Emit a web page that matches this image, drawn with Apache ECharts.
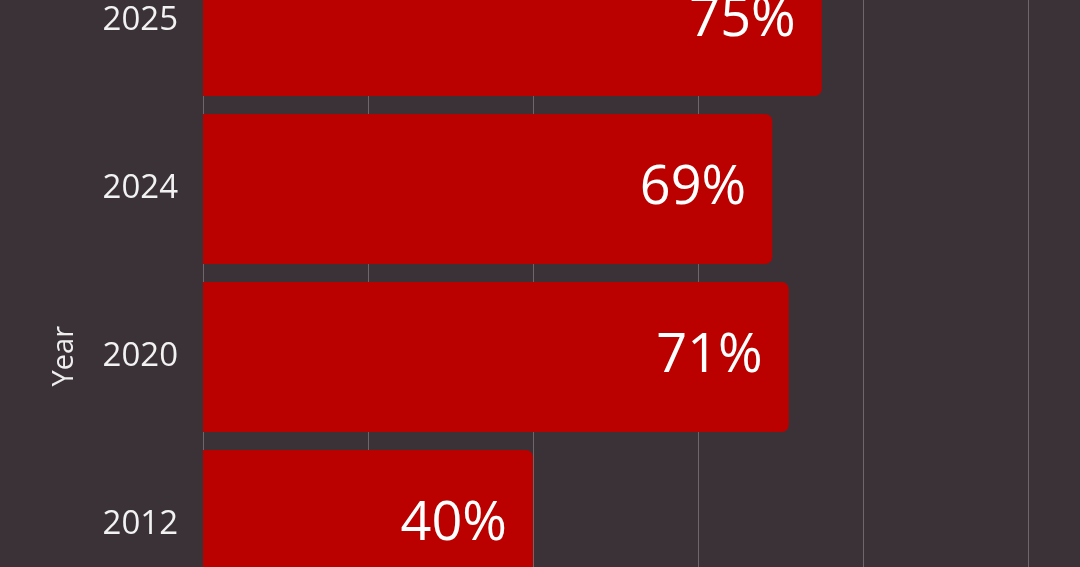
<!DOCTYPE html>
<html>
<head>
<meta charset="utf-8">
<script src="https://cdn.jsdelivr.net/npm/echarts@6/dist/echarts.min.js"></script>
<style>
html,body{margin:0;padding:0;background:#3b3237;overflow:hidden;width:1080px;height:567px;}
#c{position:absolute;left:0;top:-63px;width:1080px;height:672px;}
</style>
</head>
<body>
<div id="c"></div>
<script>
var categories = ['2012', '2020', '2024', '2025'];
var values = [40, 71, 69, 75];
var xTicks = [0, 20, 40, 60, 80, 100];

var chart = echarts.init(document.getElementById('c'));
chart.setOption({
  backgroundColor: '#3b3237',
  animation: false,
  grid: { left: 203, right: 52, top: 0, bottom: 0 },
  xAxis: {
    type: 'value',
    min: xTicks[0],
    max: xTicks[xTicks.length - 1],
    interval: 20,
    axisLabel: { show: false },
    axisLine: { show: false },
    axisTick: { show: false },
    splitLine: { show: true, lineStyle: { color: '#6e666b', width: 1 } }
  },
  yAxis: {
    type: 'category',
    data: categories,
    axisLine: { show: false },
    axisTick: { show: false },
    axisLabel: {
      color: '#f2f2f2',
      fontFamily: 'Open Sans',
      fontSize: 33,
      margin: 25
    }
  },
  graphic: [{
    type: 'text',
    left: 50,
    top: 389,
    rotation: Math.PI / 2,
    style: {
      text: 'Year',
      fill: '#eeeeee',
      font: '29px "Open Sans"'
    }
  }],
  series: [{
    type: 'bar',
    data: values,
    barWidth: 150,
    itemStyle: { color: '#bb0000', borderRadius: [0, 7, 7, 0] },
    label: {
      show: true,
      position: 'insideRight',
      distance: 26,
      formatter: '{c}%',
      color: '#ffffff',
      fontFamily: 'Open Sans',
      fontSize: 54
    }
  }]
});
</script>
</body>
</html>
